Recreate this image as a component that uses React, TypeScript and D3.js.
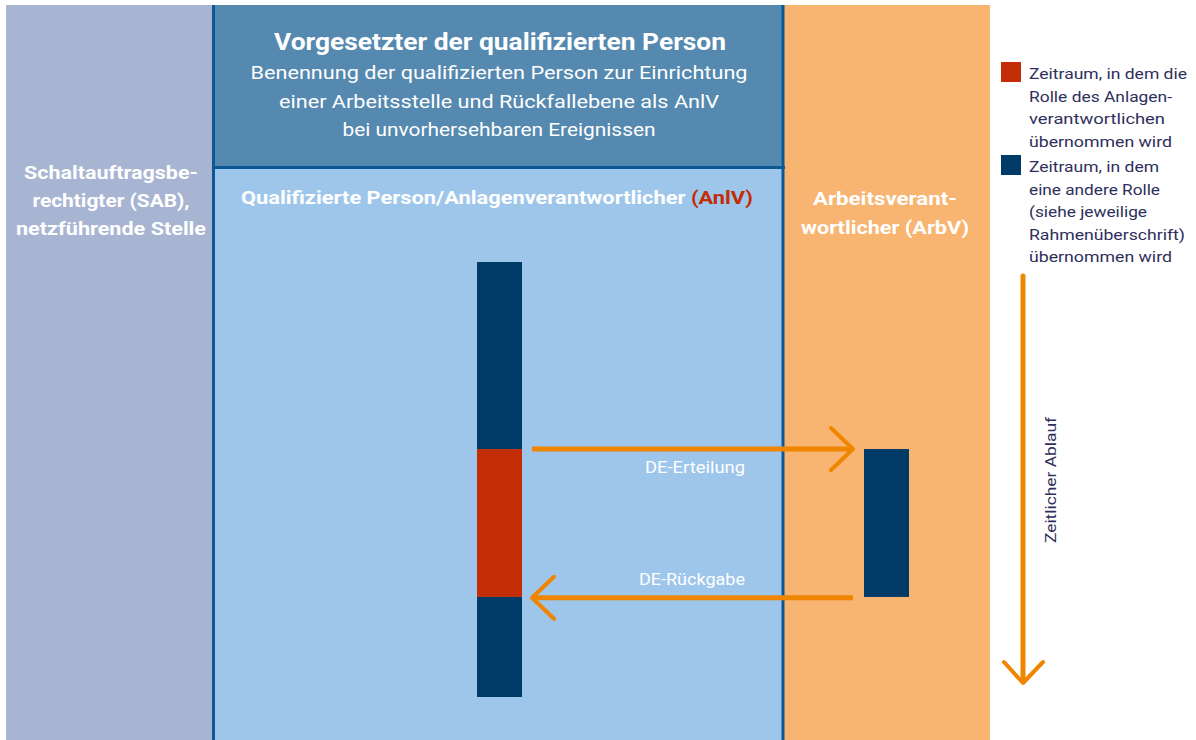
import React from 'react';
import * as d3 from 'd3';

// role periods along the timeline (time units)
const anlvSegments = [
  { start: 0, end: 4.3, role: 'other' },
  { start: 4.3, end: 7.7, role: 'anlv' },
  { start: 7.7, end: 10, role: 'other' },
];
const arbvSegments = [{ start: 4.3, end: 7.7, role: 'other' }];

const handovers = [
  { label: 'DE-Erteilung', t: 4.3, dir: 'right' },
  { label: 'DE-Rückgabe', t: 7.72, dir: 'left' },
];

const sabLines = ['Schaltauftragsbe-', 'rechtigter (SAB),', 'netzführende Stelle'];
const headerTitle = 'Vorgesetzter der qualifizierten Person';
const headerLines = [
  'Benennung der qualifizierten Person zur Einrichtung',
  'einer Arbeitsstelle und Rückfallebene als AnlV',
  'bei unvorhersehbaren Ereignissen',
];
const arbvLines = ['Arbeitsverant-', 'wortlicher (ArbV)'];
const legendItems = [
  { role: 'anlv', lines: ['Zeitraum, in dem die', 'Rolle des Anlagen-', 'verantwortlichen', 'übernommen wird'] },
  { role: 'other', lines: ['Zeitraum, in dem', 'eine andere Rolle', '(siehe jeweilige', 'Rahmenüberschrift)', 'übernommen wird'] },
];

// rendered line widths (the original uses a wide DIN-like face)
const sabWidths = [174, 157, 190];
const headerWidths = [497, 440, 313];
const arbvWidths = [144, 168];
const legendWidths = [
  [158, 143, 136, 143],
  [130, 131, 118, 156, 143],
];
const handoverWidths = [100, 106];

const W = 1196;
const H = 740;
const FONT = "Roboto, 'DejaVu Sans', sans-serif";

const colors = {
  sab: '#a7b4d2',
  header: '#5589af',
  anlvCol: '#9dc6ea',
  arbvCol: '#f7b571',
  line: '#0b5894',
  other: '#003a66',
  anlv: '#c22d06',
  arrow: '#f08500',
  legendText: '#2f2f5c',
};

const App = () => {
  const y = d3.scaleLinear().domain([0, 10]).range([262, 697]);
  const roleColor = d3.scaleOrdinal<string, string>().domain(['other', 'anlv']).range([colors.other, colors.anlv]);

  const anlvX = 477;
  const arbvX = 864;
  const barW = 45;

  const arrowLine = d3.line();

  return (
    <svg width={W} height={H} style={{ position: 'fixed', left: 0, top: 0, background: '#fff' }} fontFamily={FONT}>
      {/* columns */}
      <rect x={6} y={5} width={207} height={H - 5} fill={colors.sab} />
      <rect x={213} y={5} width={571} height={163} fill={colors.header} />
      <rect x={213} y={168} width={571} height={H - 168} fill={colors.anlvCol} />
      <rect x={784} y={5} width={206} height={H - 5} fill={colors.arbvCol} />
      <line x1={213.5} x2={213.5} y1={5} y2={H} stroke={colors.line} strokeWidth={3} />
      <line x1={783} x2={783} y1={5} y2={H} stroke={colors.line} strokeWidth={3} />
      <line x1={213} x2={785} y1={167.5} y2={167.5} stroke={colors.line} strokeWidth={3} />

      {/* column titles */}
      <g fill="#fff" fontWeight={700} fontSize={18} textAnchor="middle" lengthAdjust="spacingAndGlyphs">
        {sabLines.map((l, i) => (
          <text key={l} x={111} y={179 + i * 28} textLength={sabWidths[i]} lengthAdjust="spacingAndGlyphs">{l}</text>
        ))}
        {arbvLines.map((l, i) => (
          <text key={l} x={885} y={205 + i * 29} textLength={arbvWidths[i]} lengthAdjust="spacingAndGlyphs">{l}</text>
        ))}
        <text x={497} y={204} fontSize={17.5} textLength={512} lengthAdjust="spacingAndGlyphs">
          Qualifizierte Person/Anlagenverantwortlicher <tspan fill={colors.anlv}>(AnlV)</tspan>
        </text>
      </g>
      <text x={500} y={50} fill="#fff" fontWeight={700} fontSize={24} textAnchor="middle" textLength={452} lengthAdjust="spacingAndGlyphs">{headerTitle}</text>
      <g fill="#fff" fontSize={18.5} textAnchor="middle">
        {headerLines.map((l, i) => (
          <text key={l} x={499} y={79 + i * 28.5} textLength={headerWidths[i]} lengthAdjust="spacingAndGlyphs">{l}</text>
        ))}
      </g>

      {/* role bars */}
      {anlvSegments.map((s, i) => (
        <rect key={'a' + i} x={anlvX} y={y(s.start)} width={barW} height={y(s.end) - y(s.start)} fill={roleColor(s.role)} />
      ))}
      {arbvSegments.map((s, i) => (
        <rect key={'b' + i} x={arbvX} y={y(s.start)} width={barW} height={y(s.end) - y(s.start)} fill={roleColor(s.role)} />
      ))}

      {/* handover arrows */}
      {handovers.map((h, i) => {
        const yy = y(h.t);
        const left = anlvX + barW + 10;
        const right = arbvX - 11;
        const tip = h.dir === 'right' ? right : left;
        const tail = h.dir === 'right' ? left : right;
        const back = h.dir === 'right' ? -22 : 22;
        return (
          <g key={h.label}>
            <path d={arrowLine([[tail, yy], [tip, yy]]) || ''} stroke={colors.arrow} strokeWidth={5} fill="none" />
            <path
              d={arrowLine([[tip + back, yy - 21], [tip, yy], [tip + back, yy + 21]]) || ''}
              stroke={colors.arrow}
              strokeWidth={4}
              fill="none"
              strokeLinecap="round"
              strokeLinejoin="round"
            />
            <text
              x={745}
              y={h.dir === 'right' ? yy + 24 : yy - 13}
              fill="#fff"
              fontSize={16}
              textAnchor="end"
              textLength={handoverWidths[i]}
              lengthAdjust="spacingAndGlyphs"
            >
              {h.label}
            </text>
          </g>
        );
      })}

      {/* legend */}
      {legendItems.map((item, i) => {
        const top = i === 0 ? 62 : 155;
        return (
          <g key={item.role}>
            <rect x={1001} y={top} width={20} height={20} fill={roleColor(item.role)} />
            {item.lines.map((l, j) => (
              <text key={l + j} x={1029} y={top + 17 + j * 22.6} fontSize={15.5} fill={colors.legendText} textLength={legendWidths[i][j]} lengthAdjust="spacingAndGlyphs">{l}</text>
            ))}
          </g>
        );
      })}

      {/* time arrow */}
      <path d={arrowLine([[1023, 276], [1023, 680]]) || ''} stroke={colors.arrow} strokeWidth={5} strokeLinecap="round" fill="none" />
      <path
        d={arrowLine([[1004, 662], [1023, 683], [1043, 662]]) || ''}
        stroke={colors.arrow}
        strokeWidth={4}
        strokeLinecap="round"
        strokeLinejoin="round"
        fill="none"
      />
      <text transform="translate(1056,480) rotate(-90)" textAnchor="middle" fontSize={15} fill={colors.legendText} textLength={126} lengthAdjust="spacingAndGlyphs">
        Zeitlicher Ablauf
      </text>
    </svg>
  );
};

export default App;
